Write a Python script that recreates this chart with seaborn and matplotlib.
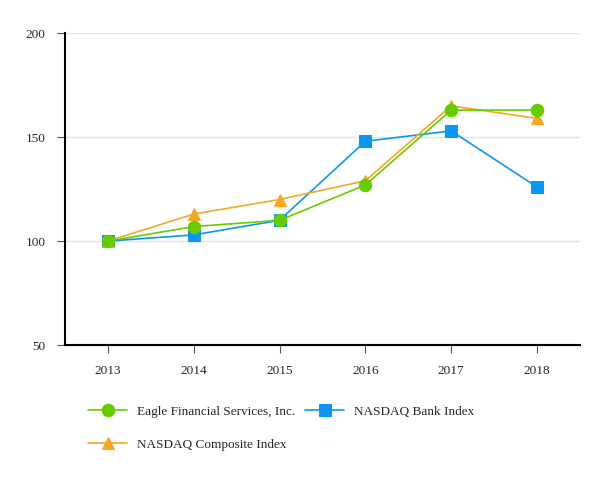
import pandas as pd
import matplotlib.pyplot as plt
import seaborn as sns

# Values
years = [2013, 2014, 2015, 2016, 2017, 2018]
eagle = [100, 107, 110, 127, 163, 163]
bank = [100, 103, 110, 148, 153, 126]
composite = [100, 113, 120, 129, 165, 159]

series_names = ["Eagle Financial Services, Inc.", "NASDAQ Bank Index", "NASDAQ Composite Index"]
colors = ["#66CC00", "#0A96F5", "#F5A623"]
markers = ["o", "s", "^"]

df = pd.DataFrame({
    "year": years * 3,
    "value": eagle + bank + composite,
    "series": [series_names[0]] * 6 + [series_names[1]] * 6 + [series_names[2]] * 6,
})

sns.set_style("white")
plt.rcParams['font.family'] = ['Liberation Serif', 'DejaVu Serif']

fig = plt.figure(figsize=(6.13, 4.8), dpi=100)
ax = fig.add_axes([0.106, 0.281, 0.840, 0.65])

# draw green last so it sits on top, like the reference
for idx in [1, 2, 0]:
    name, col, mk = series_names[idx], colors[idx], markers[idx]
    sub = df[df["series"] == name]
    sns.lineplot(data=sub, x="year", y="value", ax=ax, color=col, marker=mk,
                 markersize=9, markeredgecolor=col, linewidth=1.2, label=name)

ax.set_xlim(2012.5, 2018.5)
ax.set_ylim(50, 200)
ax.set_xticks(years)
ax.set_yticks([50, 100, 150, 200])
ax.set_xlabel("")
ax.set_ylabel("")
ax.grid(axis="y", color="#e3e3e3", linewidth=1)
ax.set_axisbelow(True)
for s in ["top", "right"]:
    ax.spines[s].set_visible(False)
for s in ["left", "bottom"]:
    ax.spines[s].set_color("black")
    ax.spines[s].set_linewidth(1.5)
ax.tick_params(axis="both", length=6, width=0.8, color="#555555", labelsize=9.5, pad=8,
               bottom=True, left=True)

# legend fills row-wise in the reference: Eagle, Bank / Composite
h, l = ax.get_legend_handles_labels()
lookup = dict(zip(l, h))
order = [series_names[0], series_names[2], series_names[1]]
ax.legend([lookup[n] for n in order], order,
          loc="upper left", bbox_to_anchor=(0.124, 0.18), bbox_transform=fig.transFigure,
          ncol=2, frameon=False, fontsize=9.5, handlelength=3.0, columnspacing=0.7,
          labelspacing=1.6, handletextpad=0.75)

fig.savefig("out.png", dpi=100)
